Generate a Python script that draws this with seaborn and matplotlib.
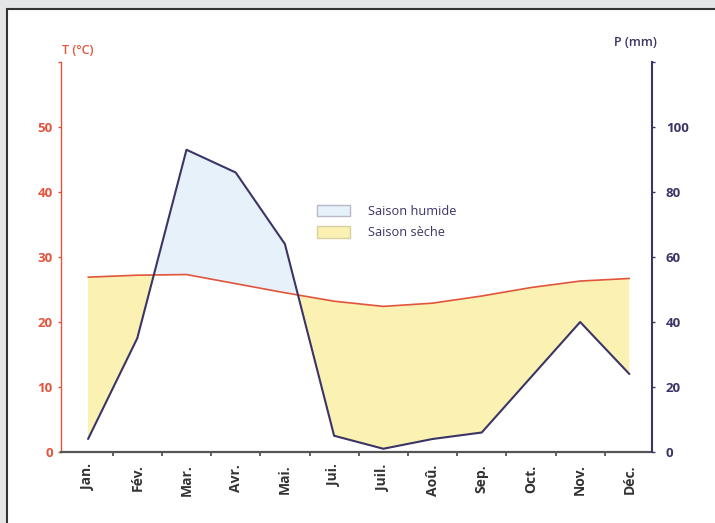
import numpy as np
import pandas as pd
import seaborn as sns
import matplotlib.pyplot as plt
from matplotlib.patches import Patch, Rectangle

# Monthly values
months = ["Jan.", "Fév.", "Mar.", "Avr.", "Mai.", "Jui.", "Juil.", "Aoû.", "Sep.", "Oct.", "Nov.", "Déc."]
temp_c = [26.9, 27.2, 27.3, 25.9, 24.5, 23.2, 22.4, 22.9, 24.0, 25.3, 26.3, 26.7]
precip_mm = [4, 35, 93, 86, 64, 5, 1, 4, 6, 23, 40, 24]
t_ticks = [0, 10, 20, 30, 40, 50, 60]
p_ticks = [0, 20, 40, 60, 80, 100, 120]

red = "#e2553c"
purple = "#3b3566"
humid = "#e7f1fa"
dry = "#faf1b3"

sns.set_style("white")
plt.rcParams["font.family"] = ["Open Sans", "DejaVu Sans"]

df = pd.DataFrame({"mois": np.arange(len(months)), "T": temp_c, "P": precip_mm})

fig = plt.figure(figsize=(7.15, 5.23), dpi=100)
fig.patch.set_facecolor("#e4e5e7")
fig.patches.append(Rectangle((7 / 715, -0.05), 1.1, 1.05 - 9 / 523, transform=fig.transFigure,
                             figure=fig, facecolor="white", edgecolor="#333333", lw=1.5, zorder=-5))

ax = fig.add_axes([61 / 715, 1 - 452 / 523, 591 / 715, 390 / 523])
ax.patch.set_alpha(0)
ax2 = ax.twinx()

# Gaussen scale: P = 2T, so fills are done on the temperature axis with P/2
half_p = df["P"] / 2
ax.fill_between(df["mois"], half_p, df["T"], where=half_p >= df["T"], interpolate=True,
                color=humid, lw=0, zorder=1)
ax.fill_between(df["mois"], half_p, df["T"], where=half_p <= df["T"], interpolate=True,
                color=dry, lw=0, zorder=1)

sns.lineplot(data=df, x="mois", y="T", ax=ax, color=red, lw=1.2, zorder=3)
sns.lineplot(data=df, x="mois", y="P", ax=ax2, color=purple, lw=1.5, zorder=3)

ax.set_xlim(-0.55, 11.46)
ax.set_ylim(0, 60)
ax2.set_ylim(0, 120)

ax.set_xticks(df["mois"])
ax.set_xticklabels(months, rotation=90, fontsize=10, fontweight="bold", color="#333333")
ax.set_xticks(df["mois"][:-1] + 0.5, minor=True)
ax.tick_params(axis="x", which="major", length=0, pad=9)
ax.tick_params(axis="x", which="minor", length=3, width=1.2, color="#444444", bottom=True)

ax.set_yticks(t_ticks)
ax.set_yticklabels([str(v) if v < 60 else "" for v in t_ticks], fontsize=9.5,
                   fontweight="bold", color=red)
ax.tick_params(axis="y", length=2, width=1, color=red, pad=4, left=True)

ax2.set_yticks(p_ticks)
ax2.set_yticklabels([str(v) if v < 120 else "" for v in p_ticks], fontsize=9.5,
                    fontweight="bold", color=purple)
ax2.tick_params(axis="y", length=2, width=1, color=purple, pad=8, right=True)

ax.set_xlabel("")
ax.set_ylabel("")
ax2.set_ylabel("")

for s in ["top", "right"]:
    ax.spines[s].set_visible(False)
for s in ["top", "left", "bottom"]:
    ax2.spines[s].set_visible(False)
ax.spines["left"].set_color(red)
ax.spines["left"].set_linewidth(1)
ax.spines["bottom"].set_color("#555555")
ax.spines["bottom"].set_linewidth(1.6)
ax2.spines["right"].set_color(purple)
ax2.spines["right"].set_linewidth(1.5)

fig.text(62 / 715, 1 - 50 / 523, "T (°C)", color=red, fontsize=9, fontweight="semibold",
         ha="left", va="center")
fig.text(635 / 715, 1 - 42 / 523, "P (mm)", color=purple, fontsize=9, fontweight="semibold",
         ha="center", va="center")

handles = [Patch(facecolor=humid, edgecolor="#b9b7c8", lw=1),
           Patch(facecolor=dry, edgecolor="#d8d0a0", lw=1)]
leg = ax2.legend(handles, ["Saison humide", "Saison sèche"], loc="upper left",
                 bbox_to_anchor=(317 / 715, 1 - 205 / 523), bbox_transform=fig.transFigure,
                 frameon=False, fontsize=9.2, handlelength=2.6, handleheight=1.0,
                 handletextpad=1.4, labelspacing=0.65, borderpad=0, borderaxespad=0)
for t in leg.get_texts():
    t.set_color(purple)

fig.savefig("out.png", dpi=100, facecolor=fig.get_facecolor())
